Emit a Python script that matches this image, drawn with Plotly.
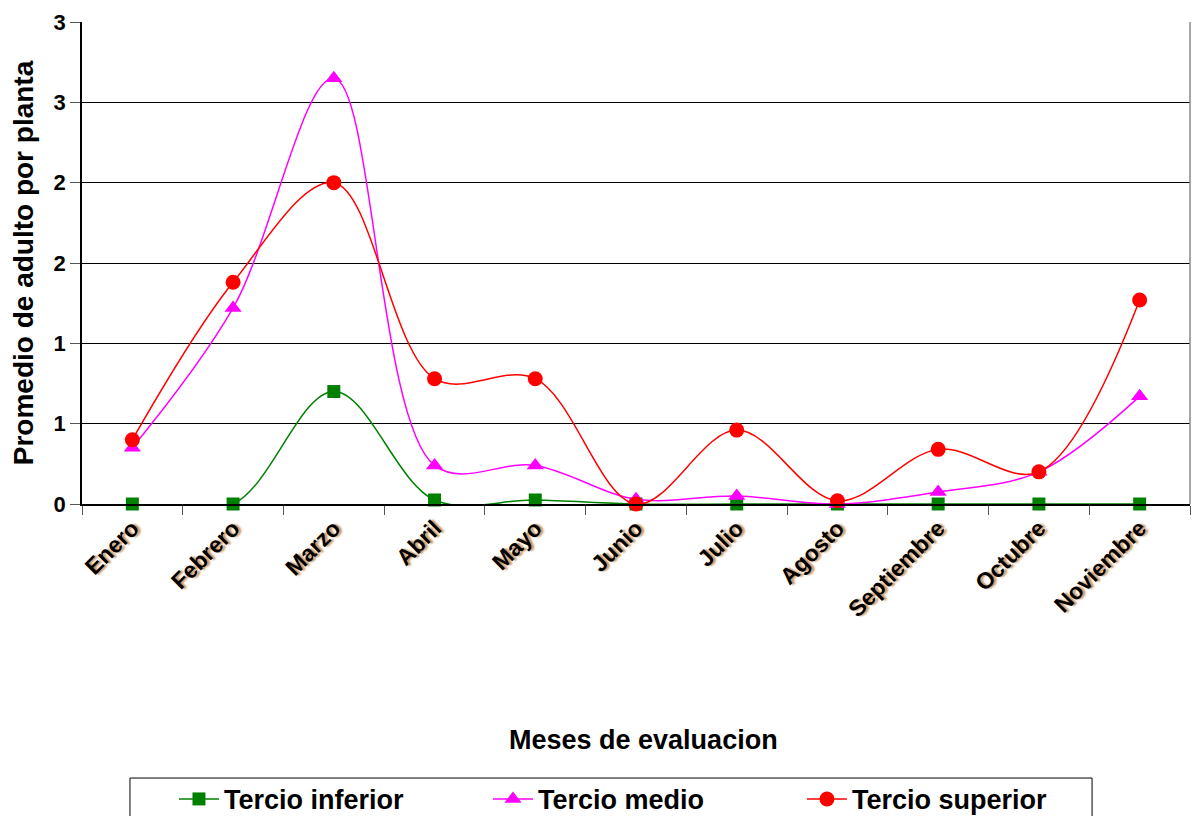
import plotly.graph_objects as go

months = ["Enero", "Febrero", "Marzo", "Abril", "Mayo", "Junio", "Julio",
          "Agosto", "Septiembre", "Octubre", "Noviembre"]

tercio_inferior = [0.0, 0.0, 0.70, 0.025, 0.025, 0.0, 0.0, 0.0, 0.0, 0.0, 0.0]
tercio_medio = [0.35, 1.22, 2.65, 0.24, 0.24, 0.03, 0.05, 0.0, 0.075, 0.2, 0.67]
tercio_superior = [0.40, 1.38, 2.0, 0.78, 0.78, 0.0, 0.46, 0.02, 0.34, 0.2, 1.27]

y_tickvals = [0, 0.5, 1, 1.5, 2, 2.5, 3]
y_ticktext = ["0", "1", "1", "2", "2", "3", "3"]

series = [
    ("Tercio inferior", tercio_inferior, "#008000", "square", 13),
    ("Tercio medio", tercio_medio, "#ff00ff", "triangle-up", 15),
    ("Tercio superior", tercio_superior, "#ff0000", "circle", 15),
]

fig = go.Figure()
for name, vals, color, symbol, size in series:
    fig.add_trace(go.Scatter(
        x=months, y=vals, name=name, mode="lines+markers",
        line=dict(color=color, width=1.5, shape="spline", smoothing=1),
        marker=dict(color=color, symbol=symbol, size=size),
        cliponaxis=False,
    ))

font_b = dict(family="Liberation Sans, Arial, sans-serif", color="black", weight="bold")

fig.update_layout(
    width=1196, height=816,
    paper_bgcolor="white", plot_bgcolor="white",
    margin=dict(l=82, r=6, t=22, b=312, autoexpand=False),
    showlegend=True,
    legend=dict(
        orientation="h", x=0.083, xanchor="left", y=-0.562, yanchor="top",
        borderwidth=0, bgcolor="rgba(0,0,0,0)", entrywidth=259,
        font=dict(size=27, **font_b),
        itemwidth=40,
    ),
    xaxis=dict(
        type="category", range=[-0.5, 10.5], automargin=False,
        showgrid=False, showline=True, linecolor="black", linewidth=1.5,
        ticks="outside", tickson="boundaries", ticklen=9, tickcolor="#555",
        tickangle=-45,
        tickfont=dict(size=23, shadow="2px 2px 2px #c89060", **font_b),
    ),
    yaxis=dict(
        range=[0, 3], tickvals=y_tickvals, ticktext=y_ticktext, automargin=False,
        showgrid=True, gridcolor="black", gridwidth=1,
        showline=True, linecolor="black", linewidth=1.5,
        ticks="outside", ticklen=10, tickcolor="#555",
        tickfont=dict(size=22, **font_b),
        zeroline=False,
        title=dict(text="Promedio de adulto por planta", font=dict(size=28, **font_b), standoff=12),
    ),
    shapes=[
        dict(type="line", xref="paper", yref="paper", x0=1, x1=1, y0=0, y1=1,
             line=dict(color="#888", width=1.5)),
        # legend frame, runs off the bottom edge like in the original
        dict(type="rect", xref="paper", yref="paper", x0=0.0433, x1=0.9116,
             y0=-0.5685, y1=-0.72, line=dict(color="black", width=1)),
    ],
    annotations=[
        dict(text="Meses de evaluacion", xref="paper", yref="paper",
             x=0.507, y=-0.49, xanchor="center", yanchor="middle", showarrow=False,
             font=dict(size=27, **font_b)),
    ],
)

fig.write_html("out.html", config={"displayModeBar": False},
               post_script="document.body.style.margin='0';")
